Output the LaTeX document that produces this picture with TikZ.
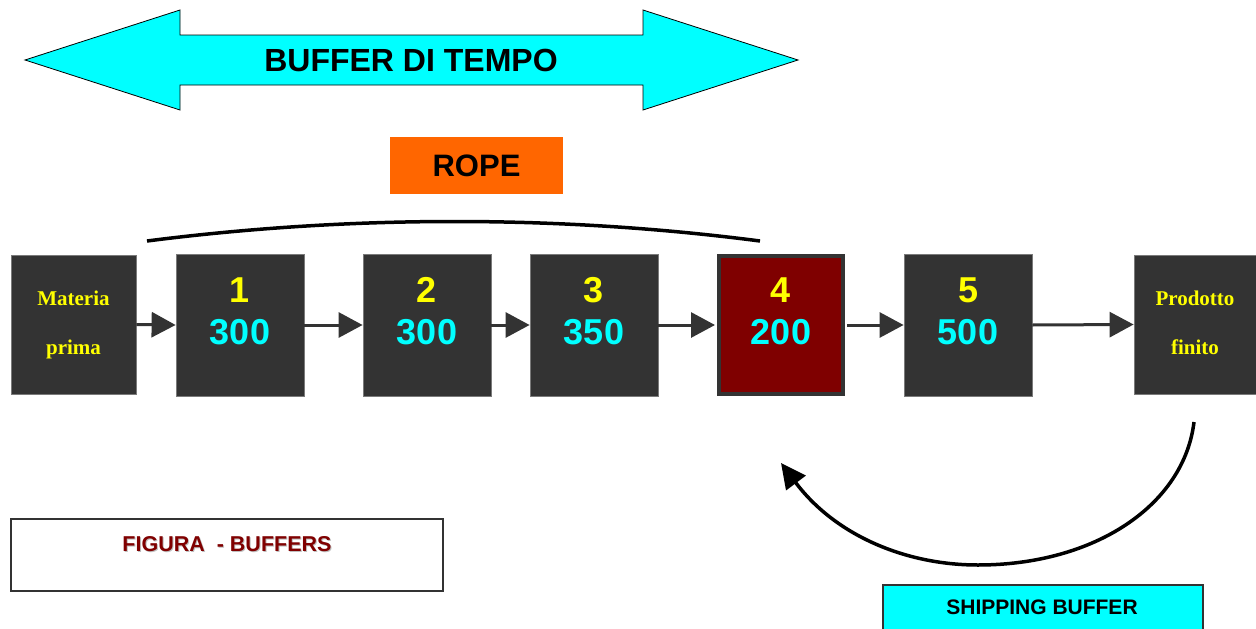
\documentclass[tikz,border=0pt]{standalone}
\usepackage{fontspec}
\setmainfont{Liberation Serif}
\newfontfamily\arialfont{Liberation Sans}
\usetikzlibrary{arrows.meta}

\definecolor{boxgrey}{HTML}{333333}
\definecolor{edgegrey}{HTML}{7A7A7A}
\definecolor{cyanfill}{HTML}{00FFFF}
\definecolor{yellowtxt}{HTML}{FFFF00}
\definecolor{maroonfill}{HTML}{7F0000}
\definecolor{ropeorange}{HTML}{FF6600}
\definecolor{captionred}{HTML}{800000}

\tikzset{
  stage/.style={draw=edgegrey, line width=0.8pt, fill=boxgrey, minimum width=128pt,
    minimum height=142pt, inner sep=0pt},
  endstage/.style={draw=edgegrey, line width=0.8pt, fill=boxgrey, inner sep=0pt,
    text=yellowtxt, align=center, font=\bfseries\fontsize{21}{49}\selectfont},
  stagenum/.style={text=yellowtxt, font=\arialfont\bfseries\fontsize{36}{36}\selectfont, inner sep=0pt},
  stagecap/.style={text=cyanfill, font=\arialfont\bfseries\fontsize{36}{36}\selectfont, inner sep=0pt},
  flow/.style={draw=boxgrey, line width=3pt,
    -{Triangle[length=24pt,width=25pt]}, shorten >=0pt},
  bigarrow/.style={draw=black, line width=0.8pt, fill=cyanfill},
}

\begin{document}
\begin{tikzpicture}[x=1pt,y=-1pt]
\useasboundingbox (0,0) rectangle (1256,629);

% time buffer double arrow
\draw[bigarrow] (25,60) -- (180,10) -- (180,35) -- (643,35) -- (643,10) -- (798,60)
  -- (643,110) -- (643,85) -- (180,85) -- (180,110) -- cycle;
\node[font=\arialfont\bfseries\fontsize{32}{32}\selectfont] (tb) at (411,60) {BUFFER DI TEMPO};

% rope label and arc
\node[fill=ropeorange, minimum width=173pt, minimum height=57pt, inner sep=0pt,
  font=\arialfont\bfseries\fontsize{31}{31}\selectfont] (rope) at (476.5,165.5) {ROPE};
\coordinate (ropeL) at (147,241);
\coordinate (ropeR) at (760,241);
\draw[line width=3.5pt] (ropeL) .. controls (350,215) and (560,215) .. (ropeR);

% process chain
\node[endstage, minimum width=125pt, minimum height=139pt] (mp) at (73.5,324.5) {Materia\\prima};
\node[stage] (s1) at (240,325) {};
\node[stage] (s2) at (427,325) {};
\node[stage] (s3) at (594,325) {};
\node[stage, fill=maroonfill, draw=boxgrey, line width=4pt, minimum width=124pt,
  minimum height=138pt] (s4) at (781,325) {};
\node[stage] (s5) at (968,325) {};
\node[endstage, minimum width=122pt, minimum height=139pt] (pf) at (1195,324.5) {Prodotto\\finito\vphantom{p}};

\foreach \s/\n/\c in {s1/1/300, s2/2/300, s3/3/350, s4/4/200, s5/5/500}{
  \node[stagenum] (\s n) at ([yshift=35pt]\s.center) {\n};
  \node[stagecap] (\s c) at ([yshift=-7pt]\s.center) {\c};
}

\draw[flow] (mp.east) -- (s1.west);
\draw[flow] (s1.east) -- (s2.west);
\draw[flow] (s2.east) -- (s3.west);
\draw[flow] (s3.east) -- ([xshift=-2pt]s4.west);
\draw[flow] ([xshift=2pt]s4.east) -- (s5.west);
\draw[flow] (s5.east) -- (pf.west);

% shipping buffer return arrow
\coordinate (shipA) at (1194,422);
\coordinate (shipB) at (978,565);
\coordinate (shipC) at (781,463);
\draw[line width=3.5pt, -{Triangle[length=25pt,width=24pt]}]
  (shipA) .. controls (1184,505) and (1095,565) .. (shipB)
  .. controls (905,565) and (835,535) .. (shipC);

\node[draw=boxgrey, line width=1.5pt, fill=cyanfill, minimum width=320pt, minimum height=60pt,
  inner sep=0pt, anchor=north west] (ship) at (882,584) {};
\node[font=\arialfont\bfseries\fontsize{21}{21}\selectfont] (shiptxt) at (1042,607) {SHIPPING BUFFER};

% caption box
\node[draw=boxgrey, line width=1.5pt, fill=white, minimum width=432pt, minimum height=72pt,
  inner sep=0pt] (cap) at (227,555) {};
\node[text=black!25, font=\arialfont\bfseries\fontsize{21.5}{21.5}\selectfont] at (228,545.5) {FIGURA\ \ - BUFFERS};
\node[text=captionred, font=\arialfont\bfseries\fontsize{21.5}{21.5}\selectfont] (captxt) at (227,544.5) {FIGURA\ \ - BUFFERS};
\end{tikzpicture}
\end{document}
